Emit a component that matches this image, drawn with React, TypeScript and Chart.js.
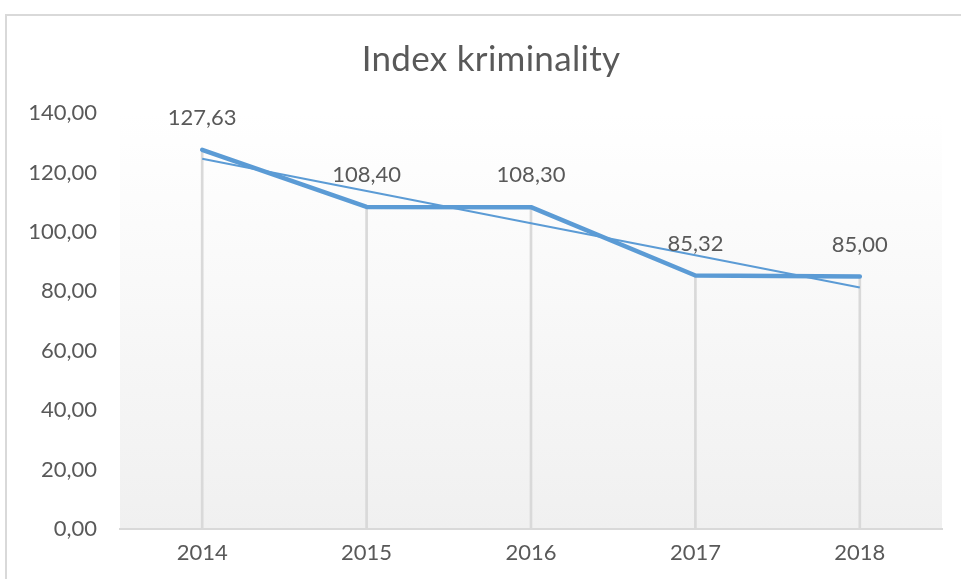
import React, { useEffect, useRef } from "react";
import { Chart, registerables } from "chart.js";

Chart.register(...registerables);

const TITLE = "Index kriminality";
const YEARS = ["2014", "2015", "2016", "2017", "2018"];
const INDEX_VALUES = [127.63, 108.4, 108.3, 85.32, 85.0];
const Y_MIN = 0;
const Y_MAX = 140;
const Y_STEP = 20;

const FONT = "Lato";
const TEXT = "#595959";
const BLUE = "#5b9bd5";
const GRAY = "#d9d9d9";

const fmt = (v: number) => v.toFixed(2).replace(".", ",");

// linear trendline (least squares) computed from the data
function linearTrend(values: number[]): number[] {
  const n = values.length;
  const xs = values.map((_, i) => i + 1);
  const mx = xs.reduce((a, b) => a + b, 0) / n;
  const my = values.reduce((a, b) => a + b, 0) / n;
  let num = 0;
  let den = 0;
  for (let i = 0; i < n; i++) {
    num += (xs[i] - mx) * (values[i] - my);
    den += (xs[i] - mx) * (xs[i] - mx);
  }
  const slope = num / den;
  return xs.map((x) => my + slope * (x - mx));
}

const backgroundPlugin = {
  id: "bgPlugin",
  beforeDraw(chart: any) {
    const { ctx, chartArea, width, height } = chart;
    ctx.save();
    ctx.fillStyle = "#ffffff";
    ctx.fillRect(0, 0, width, height);
    // outer chart border (left and top)
    ctx.strokeStyle = GRAY;
    ctx.lineWidth = 2;
    ctx.beginPath();
    ctx.moveTo(6, height);
    ctx.lineTo(6, 15);
    ctx.lineTo(width, 15);
    ctx.stroke();
    // plot area gradient
    const g = ctx.createLinearGradient(0, chartArea.top, 0, chartArea.bottom);
    g.addColorStop(0, "#ffffff");
    g.addColorStop(1, "#f0f0f0");
    ctx.fillStyle = g;
    ctx.fillRect(chartArea.left, chartArea.top, chartArea.right - chartArea.left, chartArea.bottom - chartArea.top);
    // title (centered on the full chart object, which extends past the right edge)
    ctx.font = `35px ${FONT}`;
    ctx.fillStyle = TEXT;
    ctx.textAlign = "center";
    ctx.textBaseline = "middle";
    try {
      (ctx as any).letterSpacing = "0.3px";
    } catch (e) {}
    ctx.fillText(TITLE, 491, 60);
    ctx.restore();
  },
};

const labelPlugin = {
  id: "valueLabels",
  afterDatasetsDraw(chart: any) {
    const { ctx } = chart;
    const meta = chart.getDatasetMeta(0);
    ctx.save();
    ctx.font = `22px ${FONT}`;
    ctx.fillStyle = TEXT;
    ctx.textAlign = "center";
    ctx.textBaseline = "middle";
    meta.data.forEach((pt: any, i: number) => {
      ctx.fillText(fmt(INDEX_VALUES[i]), pt.x, pt.y - 32);
    });
    ctx.restore();
  },
};

export default function App() {
  const ref = useRef<HTMLCanvasElement | null>(null);

  useEffect(() => {
    if (!ref.current) return;
    const trend = linearTrend(INDEX_VALUES);
    const chart = new Chart(ref.current, {
      type: "line",
      data: {
        labels: YEARS,
        datasets: [
          {
            type: "line",
            label: "Index",
            data: INDEX_VALUES,
            borderColor: BLUE,
            borderWidth: 4.5,
            pointRadius: 0,
            borderCapStyle: "round",
            borderJoinStyle: "round",
            fill: false,
            order: 0,
          } as any,
          {
            type: "line",
            label: "Trend",
            data: trend,
            borderColor: BLUE,
            borderWidth: 2,
            pointRadius: 0,
            fill: false,
            order: 1,
          } as any,
          {
            type: "bar",
            label: "Drop",
            data: INDEX_VALUES,
            backgroundColor: GRAY,
            barThickness: 2,
            order: 2,
          } as any,
        ],
      },
      options: {
        animation: false,
        responsive: false,
        maintainAspectRatio: false,
        layout: { padding: { left: 0, right: 19, top: 113, bottom: 0 } },
        plugins: {
          legend: { display: false },
          tooltip: { enabled: false },
          title: { display: false },
        },
        scales: {
          x: {
            offset: true,
            grid: { display: false, drawTicks: false },
            border: { display: true, color: GRAY, width: 2 },
            ticks: { color: TEXT, font: { family: FONT, size: 22 }, padding: 11 },
            afterFit: (s: any) => {
              s.height = 50;
            },
          },
          y: {
            min: Y_MIN,
            max: Y_MAX,
            grid: { display: false, drawTicks: false },
            border: { display: false },
            ticks: {
              stepSize: Y_STEP,
              color: TEXT,
              font: { family: FONT, size: 22 },
              padding: 23,
              callback: (v: any) => fmt(Number(v)),
            },
            afterFit: (s: any) => {
              s.width = 120;
            },
          },
        },
      },
      plugins: [backgroundPlugin, labelPlugin],
    });
    return () => chart.destroy();
  }, []);

  return (
    <div style={{ position: "absolute", left: 0, top: 0, width: 961, height: 579 }}>
      <canvas ref={ref} width={961} height={579} style={{ display: "block", width: 961, height: 579 }} />
    </div>
  );
}
